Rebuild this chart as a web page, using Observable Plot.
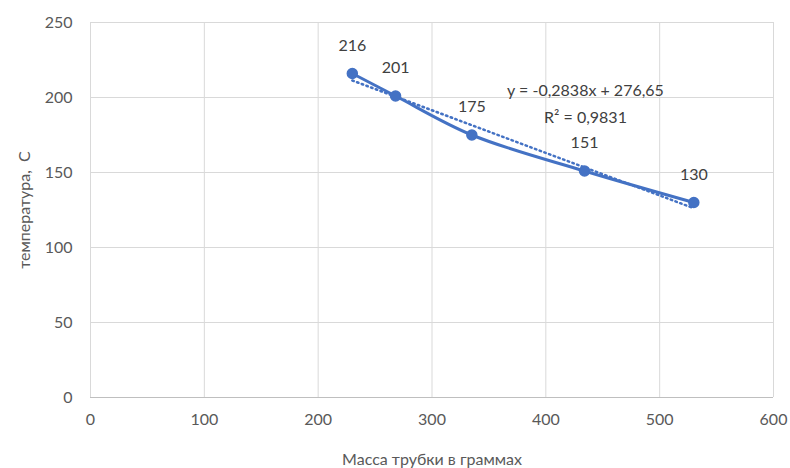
<!DOCTYPE html>
<html><head><meta charset="utf-8">
<script src="https://cdn.jsdelivr.net/npm/d3@7"></script>
<script src="https://cdn.jsdelivr.net/npm/@observablehq/plot@0.6"></script>
<style>
body{margin:0;background:#fff;}
svg{font-family:Lato,"Open Sans",sans-serif;}
</style>
</head><body>
<div id="chart"></div>
<script>
const masses = [230, 268, 335, 434, 530];
const temps = [216, 201, 175, 151, 130];
const xTicks = [0, 100, 200, 300, 400, 500, 600];
const yTicks = [0, 50, 100, 150, 200, 250];
const equationLines = ["y = -0,2838x + 276,65", "R² = 0,9831"];
const xTitle = "Масса трубки в граммах";
const yTitle = "температура,  С";

const data = masses.map((m, i) => ({m, t: temps[i]}));
const blue = "#4472C4";
const grey = "#595959";

const chart = Plot.plot({
  width: 790, height: 468,
  marginLeft: 90, marginRight: 17, marginTop: 22, marginBottom: 71,
  style: {fontSize: "16px", color: grey, fontFamily: "Lato, 'Open Sans', sans-serif"},
  x: {domain: [0, 600]},
  y: {domain: [0, 250]},
  marks: [
    Plot.gridX(xTicks, {stroke: "#d9d9d9", strokeOpacity: 1}),
    Plot.gridY(yTicks, {stroke: "#d9d9d9", strokeOpacity: 1}),
    Plot.ruleY([0], {stroke: "#bfbfbf"}),
    Plot.axisX({ticks: xTicks, tickSize: 0, tickPadding: 16, tickFormat: d => d, fill: grey,
      label: xTitle, labelAnchor: "center", labelArrow: "none", labelOffset: 67}),
    Plot.axisY({ticks: yTicks, tickSize: 0, tickPadding: 18, tickFormat: d => d, fill: grey,
      label: yTitle, labelAnchor: "center", labelArrow: "none", labelOffset: 72}),
    Plot.linearRegressionY(data, {x: "m", y: "t", ci: 0, stroke: blue, strokeWidth: 2.5, strokeDasharray: "1.5,3.5", strokeLinecap: "round"}),
    Plot.line(data, {x: "m", y: "t", stroke: blue, strokeWidth: 3, curve: "catmull-rom"}),
    Plot.dot(data, {x: "m", y: "t", r: 5, fill: blue, stroke: blue}),
    Plot.text(data, {x: "m", y: "t", text: d => String(d.t), dy: -28, fill: "#404040", fontSize: 16}),
    Plot.text([equationLines.join("\n")], {frameAnchor: "top-left", dx: 495, dy: 55, lineHeight: 1.65, textAnchor: "middle", fill: "#404040", fontSize: 16})
  ]
});
document.getElementById("chart").appendChild(chart);
</script>
</body></html>
